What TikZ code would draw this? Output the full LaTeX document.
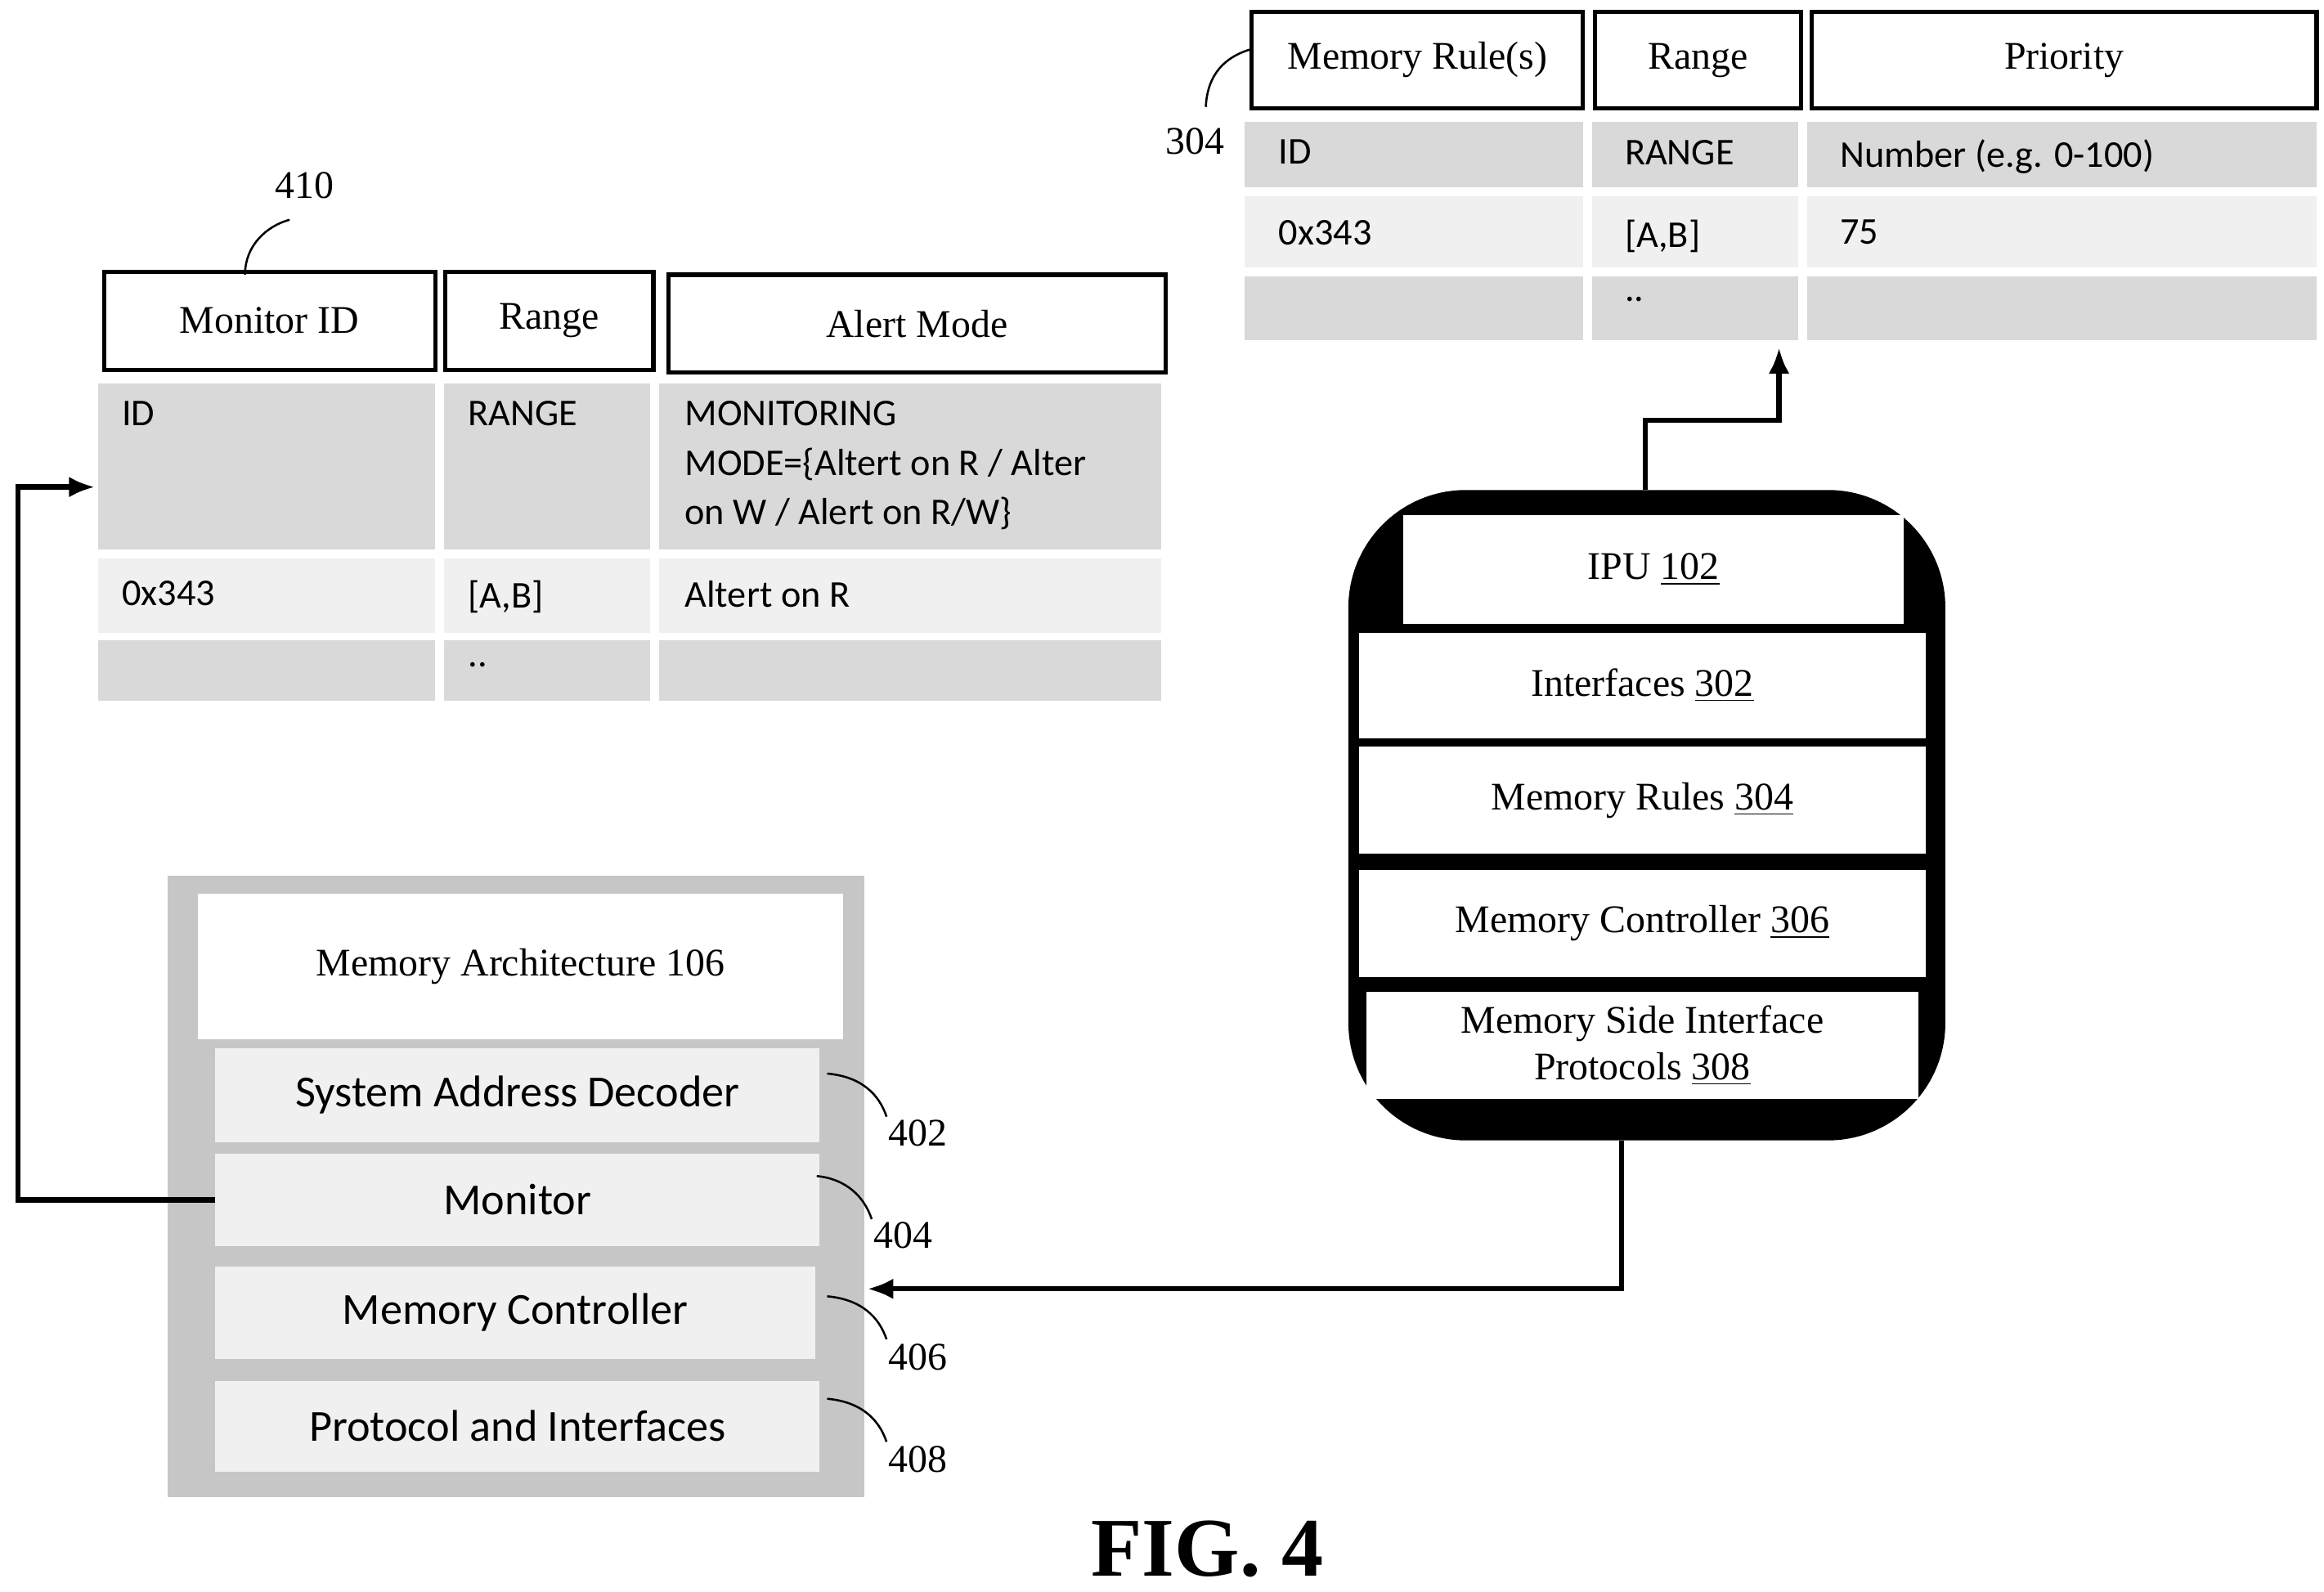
\documentclass[tikz,border=0pt]{standalone}
\usepackage{fontspec}
\setmainfont{Liberation Serif}
\newfontfamily\carfont{Carlito}
\usetikzlibrary{arrows.meta}
\begin{document}
\begin{tikzpicture}[x=0.02cm,y=-0.02cm,
 hdr/.style={draw,line width=1.6pt,fill=white,font=\fontsize{15}{18}\selectfont},
 cell/.style={fill=gray!30},
 lite/.style={fill=gray!12},
 st/.style={font=\carfont\fontsize{14.5}{19}\selectfont,anchor=north west,align=left},
 wb/.style={fill=white,font=\fontsize{15}{18}\selectfont,align=center},
 ma/.style={font=\carfont\fontsize{17}{20}\selectfont},
 lbl/.style={font=\fontsize{15}{18}\selectfont},
 ln/.style={line width=0.8pt},
 arr/.style={line width=2pt,-{Latex[length=10pt,width=8pt]}}]
\useasboundingbox (0,0) rectangle (1565,1072);
% Monitor table
\draw[hdr] (70,183) rectangle (293,249) node[midway] (mid) {Monitor ID};
\draw[hdr] (300,183) rectangle (440,249) node[midway] {Range};
\draw[hdr] (450,185) rectangle (785,251) node[midway] {Alert Mode};
\fill[cell] (66,258) rectangle (293,370); \fill[cell] (299,258) rectangle (438,370); \fill[cell] (444,258) rectangle (782,370);
\fill[lite] (66,376) rectangle (293,426); \fill[lite] (299,376) rectangle (438,426); \fill[lite] (444,376) rectangle (782,426);
\fill[cell] (66,431) rectangle (293,472); \fill[cell] (299,431) rectangle (438,472); \fill[cell] (444,431) rectangle (782,472);
\node[st] at (76,264) {ID};
\node[st] at (309,264) {RANGE};
\node[st] at (455,264) {MONITORING\\MODE=\{Altert on R / Alter\\on W / Alert on R/W\}};
\node[st] at (76,385) {0x343};
\node[st] at (309,385) {[A,B]};
\node[st] at (455,385) {Altert on R};
\node[st] at (309,440) {..};
\node[lbl] (l410) at (205,125) {410};
\draw[ln] (165,185) .. controls (165,165) and (180,152) .. (195,148);
% Memory rules table
\draw[hdr] (843,8) rectangle (1066,73) node[midway] {Memory Rule(s)};
\draw[hdr] (1074,8) rectangle (1213,73) node[midway] {Range};
\draw[hdr] (1220,8) rectangle (1560,73) node[midway] {Priority};
\fill[cell] (838,82) rectangle (1066,126); \fill[cell] (1072,82) rectangle (1211,126); \fill[cell] (1217,82) rectangle (1560,126);
\fill[lite] (838,132) rectangle (1066,180); \fill[lite] (1072,132) rectangle (1211,180); \fill[lite] (1217,132) rectangle (1560,180);
\fill[cell] (838,186) rectangle (1066,229); \fill[cell] (1072,186) rectangle (1211,229); \fill[cell] (1217,186) rectangle (1560,229);
\node[st] at (855,88) {ID};
\node[st] at (1088,88) {RANGE};
\node[st] at (1233,88) {Number (e.g. 0-100)};
\node[st] at (855,142) {0x343};
\node[st] at (1088,142) {[A,B]};
\node[st] at (1233,142) {75};
\node[st] at (1088,194) {..};
\node[lbl] (l304) at (805,95) {304};
\draw[ln] (843,33) .. controls (825,38) and (813,50) .. (812,72);
% IPU stack
\fill[black,rounded corners=45pt] (908,330) rectangle (1310,768);
\coordinate (stt) at (1108,330); \coordinate (stb) at (1092,768);
\node[wb,minimum width=337*0.02cm,minimum height=73*0.02cm] (ipu) at (1113.5,383.5) {IPU \underline{102}};
\node[wb,minimum width=382*0.02cm,minimum height=71*0.02cm] at (1106,461.5) {Interfaces \underline{302}};
\node[wb,minimum width=382*0.02cm,minimum height=72*0.02cm] at (1106,539) {Memory Rules \underline{304}};
\node[wb,minimum width=382*0.02cm,minimum height=72*0.02cm] at (1106,622) {Memory Controller \underline{306}};
\node[wb,minimum width=372*0.02cm,minimum height=72*0.02cm] at (1106,704) {Memory Side Interface\\Protocols \underline{308}};
\coordinate (rt) at (1198,234);
\draw[arr] (stt) -- (1108,283) -- (1198,283) -- (rt);
% Memory architecture
\fill[gray!45] (113,590) rectangle (582,1008);
\node[wb,minimum width=435*0.02cm,minimum height=98*0.02cm] at (350.5,651) {Memory Architecture 106};
\node[ma,lite,minimum width=407*0.02cm,minimum height=63*0.02cm] (sad) at (348.5,737.5) {System Address Decoder};
\node[ma,lite,minimum width=407*0.02cm,minimum height=62*0.02cm] (mon) at (348.5,808) {Monitor};
\node[ma,lite,minimum width=404*0.02cm,minimum height=62*0.02cm] (mc) at (347,884) {Memory Controller};
\node[ma,lite,minimum width=407*0.02cm,minimum height=61*0.02cm] (pi) at (348.5,960.5) {Protocol and Interfaces};
\node[lbl] at (618,763) {402}; \draw[ln] (557,723) .. controls (580,725) and (592,737) .. (597,752);
\node[lbl] at (608,832) {404}; \draw[ln] (550,792) .. controls (570,794) and (582,806) .. (587,821);
\node[lbl] at (618,914) {406}; \draw[ln] (557,873) .. controls (580,875) and (592,887) .. (597,902);
\node[lbl] at (618,983) {408}; \draw[ln] (557,942) .. controls (580,944) and (592,956) .. (597,971);
\coordinate (in1) at (584,868);
\draw[arr] (stb) -- (1092,868) -- (in1);
\coordinate (in2) at (64,328);
\draw[arr] (mon.west) -- (12,808) -- (12,328) -- (in2);
\node[font=\bfseries\fontsize{32}{36}\selectfont] at (813,1043) {FIG. 4};
\end{tikzpicture}
\end{document}
